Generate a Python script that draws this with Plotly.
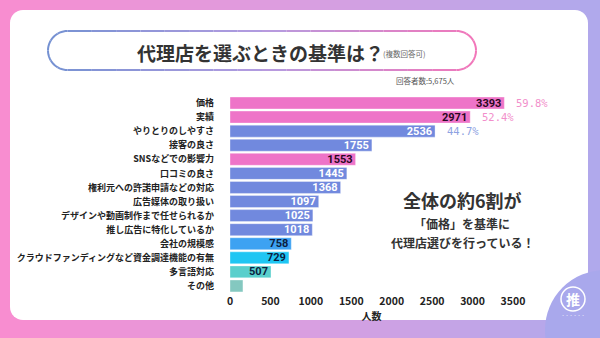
import plotly.graph_objects as go
import math

# ---------------- data ----------------
categories = ["価格", "実績", "やりとりのしやすさ", "接客の良さ", "SNSなどでの影響力", "口コミの良さ",
              "権利元への許諾申請などの対応", "広告媒体の取り扱い", "デザインや動画制作まで任せられるか",
              "推し広告に特化しているか", "会社の規模感", "クラウドファンディングなど資金調達機能の有無",
              "多言語対応", "その他"]
values = [3393, 2971, 2536, 1755, 1553, 1445, 1368, 1097, 1025, 1018, 758, 729, 507, 160]
value_labels = ["3393", "2971", "2536", "1755", "1553", "1445", "1368", "1097", "1025", "1018",
                "758", "729", "507", ""]
pct_categories = ["価格", "実績", "やりとりのしやすさ"]
pct_values = [3393, 2971, 2536]
pct_labels = ["59.8%", "52.4%", "44.7%"]
x_ticks = [0, 500, 1000, 1500, 2000, 2500, 3000, 3500]

# ---------------- styles ----------------
PINK = "#EE74C8"
BLUE = "#7189DE"
bar_colors = [PINK, PINK, BLUE, BLUE, PINK, BLUE, BLUE, BLUE, BLUE, BLUE,
              "#3DA2F2", "#1FC6F3", "#5ACFCC", "#84C8C0"]
text_colors = ["#2A0822", "#2A0822", "white", "white", "#2A0822", "white", "white", "white",
               "white", "white", "#0B1E40", "#0B1E40", "#0B1E40", "#0B1E40"]
pct_colors = ["#F28FCB", "#F28FCB", "#8EA2E2"]
FONT = "Noto Sans CJK JP"

W, H = 600, 338
L, R, T, B = 230, 87, 95, 45
PW, PH = W - L - R, H - T - B


def px(x):
    return (x - L) / PW


def py(y):
    return 1 - (y - T) / PH


def lerp_color(c1, c2, t):
    a = [int(c1[i:i + 2], 16) for i in (1, 3, 5)]
    b = [int(c2[i:i + 2], 16) for i in (1, 3, 5)]
    return "#%02x%02x%02x" % tuple(round(a[k] + (b[k] - a[k]) * t) for k in range(3))


def grad3(c1, c2, c3, t):
    if t < 0.5:
        return lerp_color(c1, c2, t * 2)
    return lerp_color(c2, c3, (t - 0.5) * 2)


shapes = []
# background gradient
N = 60
for i in range(N):
    t = (i + 0.5) / N
    shapes.append(dict(type="rect", xref="paper", yref="paper", layer="below",
                       x0=px(W * i / N), x1=px(W * (i + 1) / N + 1), y0=py(H), y1=py(0),
                       fillcolor=grad3("#F98DD0", "#DA9EE0", "#AFA9EC", t), line=dict(width=0)))


def rounded_rect_path(x0, y0, x1, y1, r):
    pts = []
    def arc(cx, cy, a0, a1):
        for k in range(9):
            a = math.radians(a0 + (a1 - a0) * k / 8)
            pts.append((cx + r * math.cos(a), cy + r * math.sin(a)))
    arc(x1 - r, y0 + r, -90, 0)
    arc(x1 - r, y1 - r, 0, 90)
    arc(x0 + r, y1 - r, 90, 180)
    arc(x0 + r, y0 + r, 180, 270)
    return pts


def to_path(pts, close=True):
    s = "M " + " L ".join("%.5f,%.5f" % (px(x), py(y)) for x, y in pts)
    return s + (" Z" if close else "")


# white card
shapes.append(dict(type="path", xref="paper", yref="paper", layer="below",
                   path=to_path(rounded_rect_path(10, 10, 588, 320, 13)),
                   fillcolor="white", line=dict(width=0)))
# logo circle at bottom-right
shapes.append(dict(type="circle", xref="paper", yref="paper", layer="below",
                   x0=px(545), x1=px(665), y0=py(390), y1=py(270),
                   fillcolor="#A9A8EC", line=dict(width=0)))
# logo outline
shapes.append(dict(type="circle", xref="paper", yref="paper", layer="below",
                   x0=px(561), x1=px(585), y0=py(311), y1=py(287),
                   fillcolor="rgba(0,0,0,0)", line=dict(color="white", width=1.5)))

# title pill with gradient outline
px0, py0, px1, py1 = 48, 31, 476, 70
rr = (py1 - py0) / 2
pill = []
def sample_line(a, b, n):
    for k in range(n):
        pill.append((a[0] + (b[0] - a[0]) * k / n, a[1] + (b[1] - a[1]) * k / n))
def sample_arc(cx, cy, a0, a1, n):
    for k in range(n):
        a = math.radians(a0 + (a1 - a0) * k / n)
        pill.append((cx + rr * math.cos(a), cy + rr * math.sin(a)))
sample_line((px0 + rr, py0), (px1 - rr, py0), 80)
sample_arc(px1 - rr, py0 + rr, -90, 90, 30)
sample_line((px1 - rr, py1), (px0 + rr, py1), 80)
sample_arc(px0 + rr, py0 + rr, 90, 270, 30)
pill.append(pill[0])
step = 5
for i in range(0, len(pill) - 1, step):
    seg = pill[i:i + step + 1]
    mx = sum(p[0] for p in seg) / len(seg)
    t = (mx - px0) / (px1 - px0)
    col = grad3("#7491D2", "#B49CE0", "#F276B9", min(max(t, 0), 1))
    shapes.append(dict(type="path", xref="paper", yref="paper", layer="below",
                       path=to_path(seg, close=False), line=dict(color=col, width=2)))

fig = go.Figure()
fig.add_trace(go.Bar(
    x=values, y=categories, orientation="h",
    marker=dict(color=bar_colors, line=dict(color="rgba(255,255,255,0.35)", width=1)),
    text=value_labels, textposition="inside", insidetextanchor="end",
    textfont=dict(color=text_colors, size=11, family="Roboto", weight="bold"),
    hoverinfo="skip", cliponaxis=False,
))

annotations = []
for c, v, lab, col in zip(pct_categories, pct_values, pct_labels, pct_colors):
    annotations.append(dict(x=v, y=c, xref="x", yref="y", text=lab, showarrow=False,
                            xanchor="left", xshift=10,
                            font=dict(size=10.5, color=col, family="DejaVu Sans Mono")))


def ann(x, y, text, size, color="#333333", xanchor="center", bold=True, family=FONT):
    annotations.append(dict(x=px(x), y=py(y), xref="paper", yref="paper", text=text,
                            showarrow=False, xanchor=xanchor, yanchor="middle",
                            font=dict(size=size, color=color, family=family,
                                      weight="bold" if bold else "normal")))


ann(260, 52, "代理店を選ぶときの基準は？", 19, "#333333")
ann(381, 54, "(複数回答可)", 7.5, "#666666", xanchor="left", bold=False)
ann(457, 80, "回答者数:5,675人", 7.5, "#555555", xanchor="right", bold=False)
ann(462, 200, "全体の約6割が", 18, "#333333")
ann(462, 223, "「価格」を基準に", 12, "#333333")
ann(462, 242, "代理店選びを行っている！", 12, "#333333")
ann(573, 299, "推", 14, "white")
ann(573, 316, "・・・・・・", 4, "white", bold=False)

fig.update_layout(
    width=W, height=H,
    margin=dict(l=L, r=R, t=T, b=B, pad=0),
    paper_bgcolor="#F98DD0", plot_bgcolor="rgba(0,0,0,0)",
    showlegend=False, bargap=0.15,
    shapes=shapes, annotations=annotations,
    uniformtext=dict(minsize=11, mode="show"),
    font=dict(family=FONT, color="#222222"),
    xaxis=dict(range=[0, 3500], tickvals=x_ticks, showgrid=False, zeroline=False,
               showline=False, ticks="", ticklen=4,
               tickfont=dict(size=10.5, family=FONT, weight="bold", color="#222222"),
               title=dict(text="人数", standoff=2,
                          font=dict(size=10, family=FONT, weight="bold", color="#222222"))),
    yaxis=dict(autorange="reversed", showgrid=False, zeroline=False, showline=False,
               ticks="", ticklabelstandoff=15,
               tickfont=dict(size=9, family=FONT, weight="bold", color="#222222")),
)

fig.write_html("out.html")
